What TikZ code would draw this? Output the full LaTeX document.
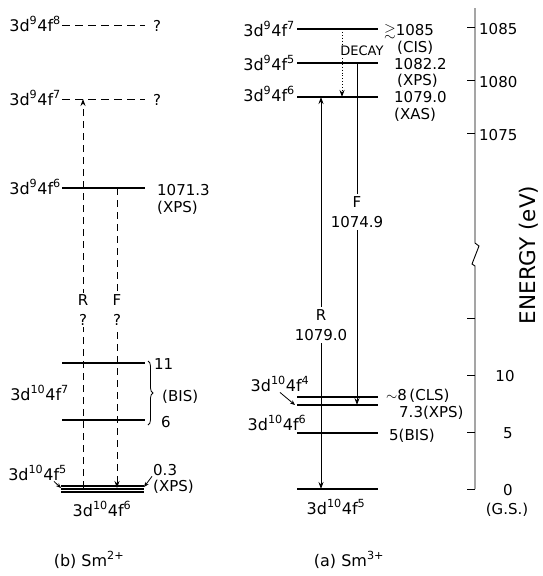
\documentclass[tikz,border=0pt]{standalone}
\usepackage{fontspec}
\usepackage{amssymb}
\setmainfont{DejaVu Sans}
\usetikzlibrary{arrows.meta,decorations.pathreplacing}
\newcommand\cfg[2]{3d\textsuperscript{#1}4f\textsuperscript{#2}}

\begin{document}
\begin{tikzpicture}[x=1pt,y=-1pt,
  lvl/.style={line width=1.6pt},
  qlvl/.style={line width=1pt,dash pattern=on 8pt off 5pt},
  tr/.style={line width=0.9pt,-{Stealth[length=7pt,width=5pt]}},
  qtr/.style={tr,dash pattern=on 7pt off 5pt},
  ptr/.style={line width=0.8pt,-{Stealth[length=5pt,width=4pt]}},
  axis/.style={line width=0.9pt},
  cf/.style={font=\fontsize{16}{18}\selectfont,inner sep=1pt},
  val/.style={font=\fontsize{15}{16}\selectfont,inner sep=1pt},
  gap/.style={font=\fontsize{15}{20}\selectfont,fill=white,align=center,inner sep=2pt}]
\useasboundingbox (0,0) rectangle (542,576);

% (b) Sm2+
\draw[qlvl] (62,25) coordinate (b8w) -- (145,25) coordinate (b8e);
\draw[qlvl] (62,99) coordinate (b7w) -- (145,99) coordinate (b7e);
\draw[lvl] (62,188) coordinate (b6w) -- (145,188) coordinate (b6e);
\draw[lvl] (62,363) coordinate (bBw) -- (145,363) coordinate (bBe);
\draw[lvl] (62,420) coordinate (bAw) -- (145,420) coordinate (bAe);
\foreach \y in {486,489,492}
  \draw[line width=1.2pt] (61,\y) -- (144,\y);
\coordinate (b0w) at (61,488);
\coordinate (b0e) at (144,487);

\node[cf,anchor=base east] (lb8) at (62,31) {\cfg98};
\node[cf,anchor=base east] (lb7) at (62,105) {\cfg97};
\node[cf,anchor=base east] (lb6) at (62,194) {\cfg96};
\node[cf,anchor=base east] (lbBIS) at (70,400) {\cfg{10}7};
\node[cf,anchor=base east] (lb5) at (68,480) {\cfg{10}5};
\node[cf,anchor=base] (lb0) at (102,516) {\cfg{10}6};

\node[val,anchor=base west] (q8) at (152,31) {?};
\node[val,anchor=base west] (q7) at (152,105) {?};
\node[val,anchor=base west] (v6) at (156,195) {1071.3};
\node[val,anchor=base west] (v6s) at (156,212) {(XPS)};
\node[val,anchor=base west] (v11) at (153,369) {11};
\node[val,anchor=base west] (vsix) at (160,427) {6};
\node[val,anchor=base west] (vbis) at (161,401) {(BIS)};
\node[val,anchor=base west] (v03) at (152,475) {0.3};
\node[val,anchor=base west] (v03s) at (152,491) {(XPS)};
\draw[line width=0.8pt,decorate,decoration={brace,amplitude=5pt}]
  (148,361) -- (148,425);

\coordinate (bR) at (83,0);
\coordinate (bF) at (117,0);
\draw[qtr] (bR |- b0w) -- (bR |- b7w);
\draw[qtr] (bF |- b6w) -- (bF |- b0w);
\node[gap] (bRl) at (83,310) {R\\?};
\node[gap] (bFl) at (117,310) {F\\?};
\draw[ptr] ([xshift=-14pt]lb5.south east) -- (b0w);
\draw[ptr] (v03.south west) -- (b0e);

\node[font=\fontsize{16}{18}\selectfont] (capb) at (89,560) {(b) Sm\textsuperscript{2+}};

% (a) Sm3+
\draw[lvl] (297,29) coordinate (a7w) -- (378,29) coordinate (a7e);
\draw[lvl] (297,63) coordinate (a5w) -- (378,63) coordinate (a5e);
\draw[lvl] (297,97) coordinate (a6w) -- (378,97) coordinate (a6e);
\draw[lvl] (297,397) coordinate (aCw) -- (378,397) coordinate (aCe);
\draw[lvl] (297,405) coordinate (aXw) -- (378,405) coordinate (aXe);
\draw[lvl] (297,433) coordinate (aBw) -- (378,433) coordinate (aBe);
\draw[lvl] (297,489) coordinate (a0w) -- (378,489) coordinate (a0e);

\node[cf,anchor=base east] (la7) at (296,36) {\cfg97};
\node[cf,anchor=base east] (la5) at (296,70) {\cfg95};
\node[cf,anchor=base east] (la6) at (296,101) {\cfg96};
\node[cf,anchor=base] (la4) at (280,391) {\cfg{10}4};
\node[cf,anchor=base] (la6lo) at (277,430) {\cfg{10}6};
\node[cf,anchor=base] (la0) at (336,514) {\cfg{10}5};
\draw[ptr] (la4.south) -- ([xshift=-2pt]aXw);

\node[val,anchor=base west] (w7) at (383,35) {$\gtrsim$1085};
\node[val,anchor=base west] (w7s) at (396,52) {(CIS)};
\node[val,anchor=base west] (w5) at (393,69) {1082.2};
\node[val,anchor=base west] (w5s) at (396,85) {(XPS)};
\node[val,anchor=base west] (w6) at (393,102) {1079.0};
\node[val,anchor=base west] (w6s) at (393,119) {(XAS)};
\node[val,anchor=base west] (wC) at (385,400) {$\sim$8\,(CLS)};
\node[val,anchor=base west] (wX) at (398,417) {7.3(XPS)};
\node[val,anchor=base west] (wB) at (388,440) {5(BIS)};

\coordinate (aR) at (321,0);
\coordinate (aF) at (357,0);
\coordinate (aD) at (342,0);
\draw[tr,{Stealth[length=7pt,width=5pt]}-{Stealth[length=7pt,width=5pt]}]
  (aR |- a0w) -- (aR |- a6w);
\draw[tr] (aF |- a5w) -- (aF |- aXw);
\draw[tr,dotted] (aD |- a7w) -- (aD |- a6w);
\node[gap] (aRl) at (321,325) {R\\1079.0};
\node[gap] (aFl) at (357,212) {F\\1074.9};
\node[fill=white,inner sep=1pt,font=\fontsize{13}{14}\selectfont] (dec) at (362,51) {DECAY};

\node[font=\fontsize{16}{18}\selectfont] (capa) at (349,560) {(a) Sm\textsuperscript{3+}};

% energy axis
\draw[axis] (475,8) -- (475,243) -- (479,246) -- (472,264) -- (475,266) -- (475,489);
\foreach \y in {27,80,133,318,375,432,489}
  \draw[axis] (467,\y) -- (475,\y);
\node[val,anchor=west] (t1085) at (478,29) {1085};
\node[val,anchor=west] (t1080) at (478,82) {1080};
\node[val,anchor=west] (t1075) at (478,135) {1075};
\node[val] (t10) at (505,376) {10};
\node[val] (t5) at (508,433) {5};
\node[val] (t0) at (508,490) {0};
\node[val] (tgs) at (507,510) {(G.S.)};
\node[font=\fontsize{21.5}{23}\selectfont,rotate=90] (elab) at (529,255) {ENERGY (eV)};
\end{tikzpicture}
\end{document}
